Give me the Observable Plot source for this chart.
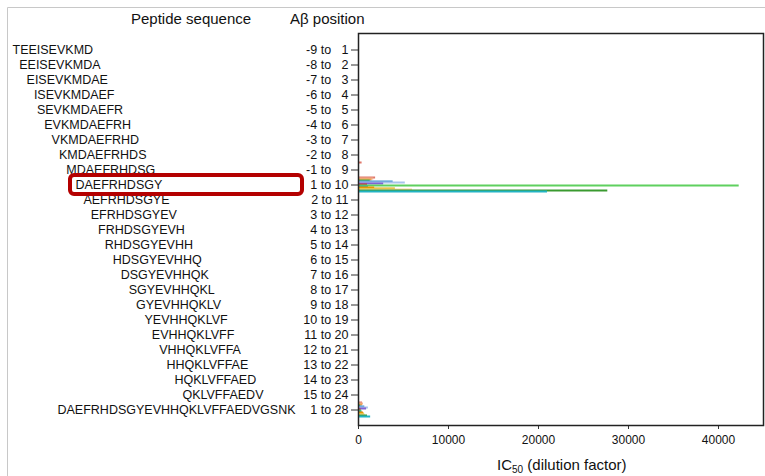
<!DOCTYPE html>
<html><head><meta charset="utf-8">
<script src="https://cdn.jsdelivr.net/npm/d3@7"></script>
<script src="https://cdn.jsdelivr.net/npm/@observablehq/plot@0.6"></script>
<style>
body{margin:0;background:#fff;font-family:"Liberation Sans",Arial,sans-serif;}
#wrap{position:relative;width:765px;height:476px;overflow:hidden;background:#fff;}
#chart{position:absolute;left:0;top:0;}
.hdr{position:absolute;font-size:15px;color:#111;white-space:nowrap;line-height:1;}
.hdr sub{font-size:10px;vertical-align:-3px;line-height:0;}
</style></head><body>
<div id="wrap">
<div id="chart"></div>
<div class="hdr" style="left:131px;top:11px">Peptide sequence</div>
<div class="hdr" style="left:290px;top:11px">Aβ position</div>
<div class="hdr" id="xlabel" style="left:497px;top:457px;font-size:15px">IC<sub>50</sub> (dilution factor)</div>
</div>
<script>
// ---- data ----
const peptides = [
  "TEEISEVKMD","EEISEVKMDA","EISEVKMDAE","ISEVKMDAEF","SEVKMDAEFR","EVKMDAEFRH",
  "VKMDAEFRHD","KMDAEFRHDS","MDAEFRHDSG","DAEFRHDSGY","AEFRHDSGYE","EFRHDSGYEV",
  "FRHDSGYEVH","RHDSGYEVHH","HDSGYEVHHQ","DSGYEVHHQK","SGYEVHHQKL","GYEVHHQKLV",
  "YEVHHQKLVF","EVHHQKLVFF","VHHQKLVFFA","HHQKLVFFAE","HQKLVFFAED","QKLVFFAEDV",
  "DAEFRHDSGYEVHHQKLVFFAEDVGSNK"
];
const positions = [
  "-9 to 1","-8 to 2","-7 to 3","-6 to 4","-5 to 5","-4 to 6","-3 to 7","-2 to 8","-1 to 9",
  "1 to 10","2 to 11","3 to 12","4 to 13","5 to 14","6 to 15","7 to 16","8 to 17","9 to 18",
  "10 to 19","11 to 20","12 to 21","13 to 22","14 to 23","15 to 24","1 to 28"
];
const seriesNames = ["S1","S2","S3","S4","S5","S6","S7","S8","S9","S10","S11","S12","S13","S14","S15"];
const seriesColors = ["#e0786a","#f2b08e","#e9a050","#52b84a","#3b8fd0","#a9c4ec","#8064d2","#d23232",
                      "#5fd05f","#2fb0a0","#f08a00","#d6a800","#ffd9a0","#3a9a30","#22b4c4"];
// IC50 values (dilution factor) per series, for rows with visible bars
const ic50_m1to9  = [400,0,0,0,0,0,0,0,0,0,0,0,0,0,0];
const ic50_1to10  = [1900,1700,1500,1300,3850,5200,2800,1000,42300,1100,1800,4100,6000,27700,21000];
const ic50_1to28  = [450,550,450,250,700,1100,900,300,350,400,550,650,750,1000,1350];
const xTicks = [0,10000,20000,30000,40000];
const fullSequence = "TEEISEVKMDAEFRHDSGYEVHHQKLVFFAEDV";

// ---- build table ----
const valuesByRow = {8: ic50_m1to9, 9: ic50_1to10, 24: ic50_1to28};
const keys = [], rows = [];
peptides.forEach((p, i) => {
  seriesNames.forEach((s, j) => {
    const key = i + "|" + j;
    keys.push(key);
    const v = valuesByRow[i] ? valuesByRow[i][j] : 0;
    rows.push({key, series: s, value: v});
  });
});
const mid = Math.floor(seriesNames.length / 2);
const tickKeys = peptides.map((p, i) => i + "|" + mid);
const fmtPos = s => s.replace(/to (\d)$/, "to \u2007$1");

const FONT = "'Liberation Sans', Arial, sans-serif";
const canvas = document.createElement("canvas");
const ctx = canvas.getContext("2d");
ctx.font = "12.5px 'Liberation Sans'";
const marginLeft = 358;
const labelMarks = peptides.map((p, i) => {
  let start;
  if (i === peptides.length - 1) start = 57;
  else start = 12 + 0.88 * ctx.measureText(fullSequence.slice(0, i)).width;
  return Plot.text([{key: tickKeys[i], t: p}], {
    y: "key", text: "t", frameAnchor: "left", textAnchor: "start",
    dx: start - marginLeft, fontSize: 12.5, fill: "#111"
  });
});

const plot = Plot.plot({
  width: 765, height: 476,
  marginLeft, marginRight: 2, marginTop: 33, marginBottom: 51,
  style: {fontFamily: FONT, fontSize: "12.5px", color: "#111", background: "transparent", overflow: "visible"},
  x: {domain: [0, 45000], label: null},
  y: {domain: keys, padding: 0, inset: 7, label: null},
  color: {domain: seriesNames, range: seriesColors},
  marks: [
    Plot.barX(rows, {x: "value", y: "key", fill: "series", insetTop: -0.5, insetBottom: -0.5}),
    Plot.axisY({ticks: tickKeys, tickFormat: k => fmtPos(positions[+k.split("|")[0]]),
                tickSize: 7, tickPadding: 3, fontSize: 12.5, label: null, stroke: "#333"}),
    Plot.axisX({ticks: xTicks, tickFormat: d => String(d), tickSize: 4, tickPadding: 6,
                fontSize: 12, label: null, stroke: "#333"}),
    ...labelMarks,
    Plot.frame({stroke: "#222", strokeWidth: 1.5})
  ]
});
document.getElementById("chart").append(plot);

// annotation: outer light border and red highlight box
const svg = d3.select(plot);
svg.insert("path", ":first-child")
  .attr("d", "M7.5,476 V7.5 H765")
  .attr("fill", "none").attr("stroke", "#c8c8c8").attr("stroke-width", 1);
const ys = plot.scale("y");
const yc = ys.apply(tickKeys[9]) + ys.bandwidth / 2;
svg.append("rect")
  .attr("x", 70).attr("y", yc - 9.5).attr("width", 232).attr("height", 19)
  .attr("rx", 4).attr("fill", "none").attr("stroke", "#b40000").attr("stroke-width", 4);
</script>
</body></html>
